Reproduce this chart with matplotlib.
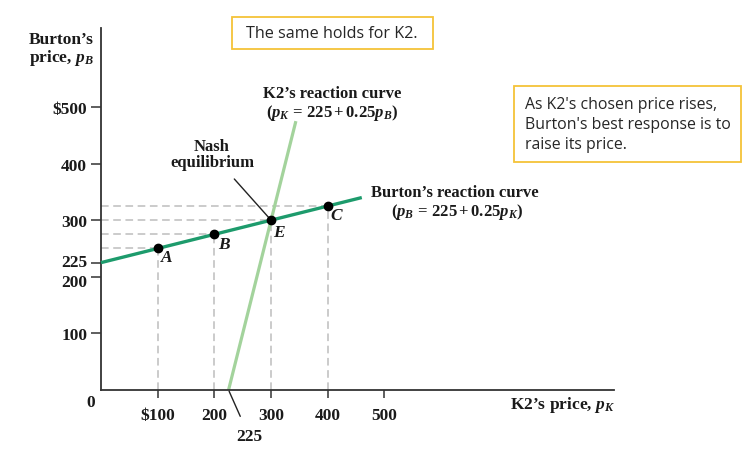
import matplotlib
matplotlib.use("Agg")
import matplotlib.pyplot as plt
import matplotlib.transforms as mtransforms
from matplotlib.patches import Rectangle

# reaction curve end points
burton_pk = [0, 460]
burton_pb = [225, 340]
k2_pb = [0, 475]
k2_pk = [225, 343.75]

# labelled points on Burton's curve
pts_pk = [100, 200, 300, 400]
pts_pb = [250, 275, 300, 325]
pts_lab = ['A', 'B', 'E', 'C']

xticks = [100, 200, 300, 400, 500]
xlabels = ['$100', '200', '300', '400', '500']
yticks = [100, 200, 225, 300, 400, 500]
ylabels = ['100', '200', '225', '300', '400', '$500']

plt.rcParams['mathtext.fontset'] = 'custom'
plt.rcParams['mathtext.rm'] = 'Liberation Serif'
plt.rcParams['mathtext.it'] = 'Liberation Serif:italic'
plt.rcParams['mathtext.bf'] = 'Liberation Serif:bold'
plt.rcParams['mathtext.bfit'] = 'Liberation Serif:italic:bold'

serif = dict(family='Liberation Serif', weight='bold', color='#1a1a1a')
W, H = 750, 452


def px(x, y):
    return x / W, 1 - y / H


fig = plt.figure(figsize=(7.5, 4.52), dpi=100)
ax = fig.add_axes([0, 0, 1, 1])
ax.set_xlim(-178.1, 1144.7)
ax.set_ylim(-107.8, 690.8)

for s in ['top', 'right']:
    ax.spines[s].set_visible(False)
ax.spines['left'].set_position(('data', 0))
ax.spines['bottom'].set_position(('data', 0))
ax.spines['left'].set_bounds(0, 640)
ax.spines['bottom'].set_bounds(0, 905)
for s in ['left', 'bottom']:
    ax.spines[s].set_color('#333333')
    ax.spines[s].set_linewidth(1.3)

ax.set_xticks(xticks)
ax.set_xticklabels(xlabels, fontsize=12.5, **serif)
ax.set_yticks(yticks)
ax.set_yticklabels(ylabels, fontsize=12.5, **serif)
ax.tick_params(axis='y', direction='out', length=7, width=1.1, color='#333333', pad=3)
ax.tick_params(axis='x', direction='out', length=6, width=1.1, color='#333333', pad=6)

# nudge the close 225 / 200 labels apart
for t in ax.get_yticklabels():
    if t.get_text() == '225':
        t.set_transform(t.get_transform() + mtransforms.ScaledTranslation(0, 2 / 72, fig.dpi_scale_trans))
    elif t.get_text() == '200':
        t.set_transform(t.get_transform() + mtransforms.ScaledTranslation(0, -2 / 72, fig.dpi_scale_trans))

# dashed guide lines
for x, y in zip(pts_pk, pts_pb):
    ax.plot([0, x], [y, y], ls=(0, (5, 3)), color='#bdbdbd', lw=1.1, zorder=1)
    ax.plot([x, x], [0, y], ls=(0, (5, 3)), color='#bdbdbd', lw=1.1, zorder=1)

ax.plot(k2_pk, k2_pb, color='#a3d39c', lw=2.3, zorder=2, solid_capstyle='butt')
ax.plot(burton_pk, burton_pb, color='#1d9b6c', lw=2.4, zorder=3, solid_capstyle='butt')
ax.plot(pts_pk, pts_pb, 'o', color='black', ms=6, zorder=4)

lab_off = {'A': (167, 258), 'B': (224, 245), 'E': (279, 233), 'C': (336, 216)}
for lab in pts_lab:
    fig.text(*px(*lab_off[lab]), lab, ha='center', va='center', fontsize=12.5,
             family='Liberation Serif', weight='bold', style='italic', color='#1a1a1a')

fig.text(*px(91, 403), '0', ha='center', va='center', fontsize=12.5, **serif)

# axis titles
fig.text(*px(94, 50), 'Burton’s\nprice, $\\mathbfit{p_B}$', ha='right', va='center',
         fontsize=12.5, linespacing=1.05, **serif)
fig.text(*px(615, 405), 'K2’s price, $\\mathbfit{p_K}$', ha='right', va='center',
         fontsize=12.5, **serif)

# curve labels
fig.text(*px(332, 94), 'K2’s reaction curve', ha='center', va='center', fontsize=12, **serif)
fig.text(*px(332, 113), r'$\mathbf{(}\mathbfit{p_K}\mathbf{\,=\,225+0.25}\mathbfit{p_B}\mathbf{)}$',
         ha='center', va='center', fontsize=12, **serif)
fig.text(*px(455, 193), 'Burton’s reaction curve', ha='center', va='center', fontsize=12, **serif)
fig.text(*px(457, 212), r'$\mathbf{(}\mathbfit{p_B}\mathbf{\,=\,225+0.25}\mathbfit{p_K}\mathbf{)}$',
         ha='center', va='center', fontsize=12, **serif)

ax.annotate('Nash\nequilibrium', xy=(pts_pk[2], pts_pb[2]), xycoords='data',
            xytext=px(212, 155), textcoords='figure fraction', ha='center', va='center',
            fontsize=12, linespacing=1.0, **serif,
            arrowprops=dict(arrowstyle='-', color='#222222', lw=1.0, shrinkA=6, shrinkB=2))
ax.annotate('225', xy=(k2_pk[0], 0), xycoords='data',
            xytext=px(249, 437), textcoords='figure fraction', ha='center', va='center',
            fontsize=12.5, **serif,
            arrowprops=dict(arrowstyle='-', color='#222222', lw=1.0, shrinkA=7, shrinkB=1))

# callout boxes
box = dict(fill=False, edgecolor='#f5c338', lw=1.3, transform=fig.transFigure)
fig.patches.append(Rectangle(px(232, 50), 201 / W, 32 / H, **box))
fig.text(*px(332, 34), 'The same holds for K2.', ha='center', va='center',
         fontsize=11.6, family='Open Sans', color='#262626')
fig.patches.append(Rectangle(px(514, 163), 227 / W, 76 / H, **box))
fig.text(*px(525, 125), "As K2's chosen price rises,\nBurton's best response is to\nraise its price.",
         ha='left', va='center', fontsize=11.4, family='Open Sans', color='#262626',
         linespacing=1.35)

fig.savefig('out.png', dpi=100)
